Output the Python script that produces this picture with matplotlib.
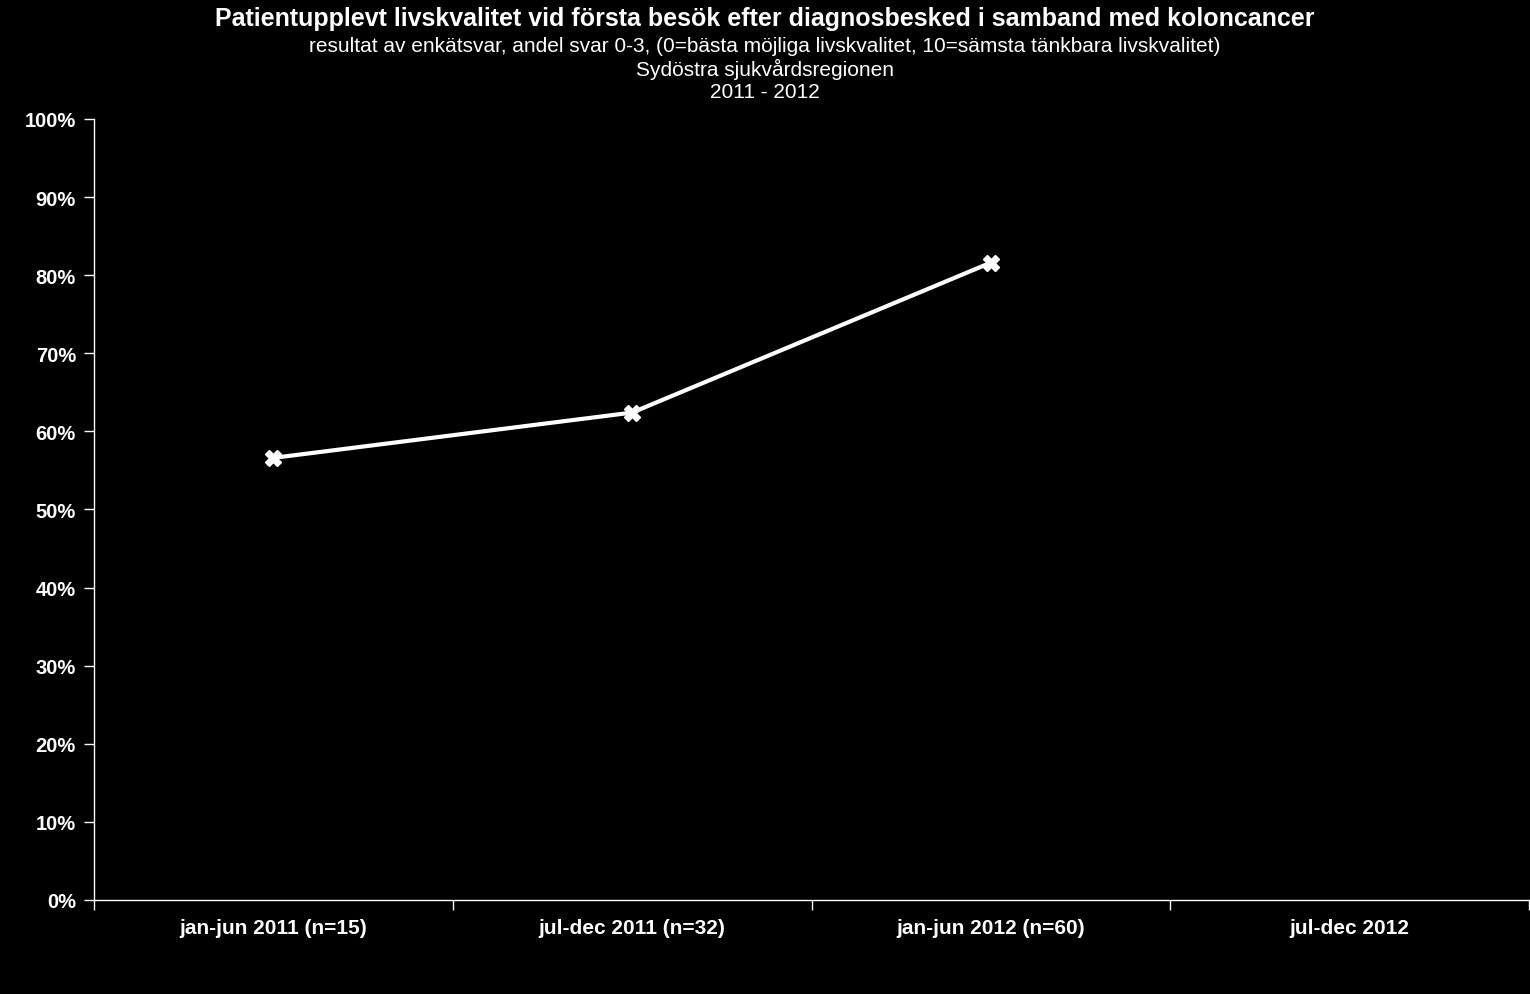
import numpy as np
import matplotlib.pyplot as plt
from matplotlib.ticker import FixedLocator, PercentFormatter

plt.rcParams['font.family'] = ['Liberation Sans', 'DejaVu Sans']

# data
categories = ['jan-jun 2011 (n=15)', 'jul-dec 2011 (n=32)', 'jan-jun 2012 (n=60)', 'jul-dec 2012']
values = [56.6, 62.4, 81.6]  # percent, last period has no data

fig = plt.figure(figsize=(15.3, 9.95), dpi=100, facecolor='black')
ax = fig.add_axes([0.0614, 0.0945, 0.9380, 0.785], facecolor='black')

x = np.arange(len(values))
ax.plot(x, values, color='white', linewidth=3, marker='X', markersize=11,
        markeredgecolor='white', markerfacecolor='white', clip_on=False)

ax.set_xlim(-0.5, len(categories) - 0.5)
ax.set_ylim(0, 100)
ax.yaxis.set_major_locator(FixedLocator(np.arange(0, 101, 10)))
ax.yaxis.set_major_formatter(PercentFormatter(decimals=0))

ax.set_xticks(np.arange(len(categories)))
ax.set_xticklabels(categories)
ax.xaxis.set_minor_locator(FixedLocator(np.arange(len(categories) + 1) - 0.5))
ax.tick_params(axis='x', which='major', length=0, pad=13, colors='white', labelsize=15)
ax.tick_params(axis='x', which='minor', length=7, width=1, color='white', direction='out')
ax.tick_params(axis='y', length=7, width=1, color='white', labelcolor='white', labelsize=14.5, pad=6)
for lab in ax.get_xticklabels() + ax.get_yticklabels():
    lab.set_fontweight('bold')

for side in ['top', 'right']:
    ax.spines[side].set_visible(False)
for side in ['left', 'bottom']:
    ax.spines[side].set_color('white')
    ax.spines[side].set_linewidth(1)

fig.text(0.5, 0.981, 'Patientupplevt livskvalitet vid första besök efter diagnosbesked i samband med koloncancer',
         ha='center', va='center', color='white', fontsize=18, fontweight='bold')
fig.text(0.5, 0.953, 'resultat av enkätsvar, andel svar 0-3, (0=bästa möjliga livskvalitet, 10=sämsta tänkbara livskvalitet)',
         ha='center', va='center', color='white', fontsize=15)
fig.text(0.5, 0.930, 'Sydöstra sjukvårdsregionen', ha='center', va='center', color='white', fontsize=15)
fig.text(0.5, 0.907, '2011 - 2012', ha='center', va='center', color='white', fontsize=15)

fig.savefig('out.png', dpi=100, facecolor='black')
